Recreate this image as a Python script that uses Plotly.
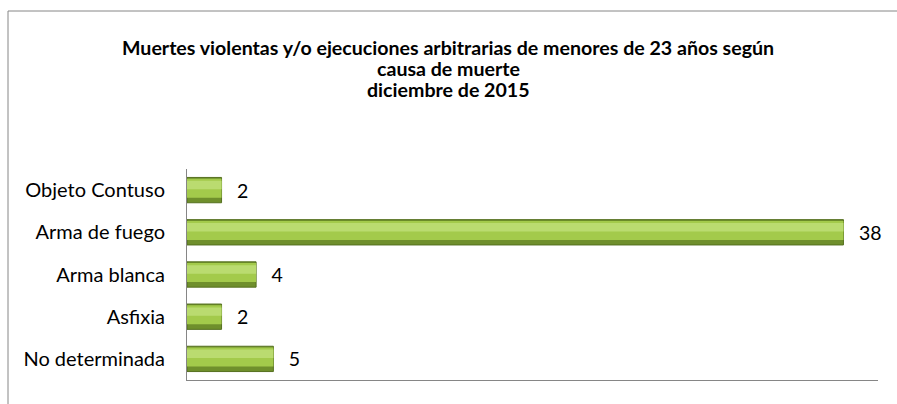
import plotly.graph_objects as go

categories = ["Objeto Contuso", "Arma de fuego", "Arma blanca", "Asfixia", "No determinada"]
values = [2, 38, 4, 2, 5]
title_lines = [
    "Muertes violentas y/o ejecuciones arbitrarias de menores de 23 años según",
    "causa de muerte",
    "diciembre de 2015",
]

FONT = "Lato"
W, H = 897, 404
ML, MR, MT, MB = 187, 19, 169, 24
PW, PH = W - ML - MR, H - MT - MB

def py(pix):  # pixel y (from top) -> paper y
    return (H - MB - pix) / PH

def px(pix):
    return (pix - ML) / PW

fig = go.Figure()
common = dict(y=categories, x=values, orientation="h", hoverinfo="skip", showlegend=False)
# dark base / bevel edge
fig.add_trace(go.Bar(
    **common, width=0.6, offset=-0.3,
    marker=dict(color="#6F8F2C", line=dict(color="#55701F", width=1)),
    texttemplate="  \u2009%{x}", textposition="outside",
    textfont=dict(family=FONT, size=19.5, color="#000000"),
    cliponaxis=False,
))
# main body
fig.add_trace(go.Bar(
    **common, width=0.45, offset=-0.18,
    marker=dict(color="#A3CA4B", line=dict(width=0)),
))
# light highlight
fig.add_trace(go.Bar(
    **common, width=0.2, offset=0.02,
    marker=dict(color="#BADB70", line=dict(width=0)),
))

annotations = []
for i, line in enumerate(title_lines):
    annotations.append(dict(
        text=line, xref="paper", yref="paper", x=px(448), y=py(47 + 21 * i),
        xanchor="center", yanchor="middle", showarrow=False,
        font=dict(family=FONT, size=19.6, color="#000000", weight="bold"),
    ))

fig.update_layout(
    width=W, height=H,
    margin=dict(l=ML, r=MR, t=MT, b=MB, pad=0),
    barmode="overlay",
    paper_bgcolor="white", plot_bgcolor="white",
    font=dict(family=FONT, size=20, color="#000000"),
    annotations=annotations,
    xaxis=dict(range=[0, 40], showgrid=False, zeroline=False, showticklabels=False,
               ticks="", showline=True, linecolor="#868686", linewidth=1, fixedrange=True),
    yaxis=dict(categoryorder="array", categoryarray=categories[::-1],
               showgrid=False, zeroline=False, ticks="", ticklabelstandoff=17,
               tickfont=dict(family=FONT, size=20),
               showline=True, linecolor="#868686", linewidth=1, fixedrange=True),
    shapes=[dict(type="rect", xref="paper", yref="paper",
                 x0=px(8), x1=px(W + 20), y0=py(H + 20), y1=py(11),
                 line=dict(color="#868686", width=1), fillcolor="rgba(0,0,0,0)", layer="below")],
)

fig.write_html("out.html", config={"displayModeBar": False},
               post_script="document.body.style.margin='0';document.body.style.overflow='hidden';")
